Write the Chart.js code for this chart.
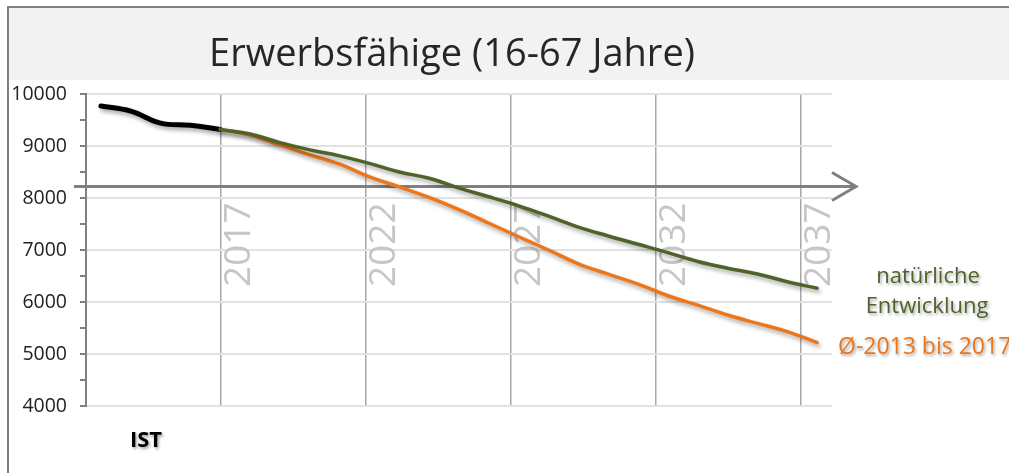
<!DOCTYPE html>
<html>
<head>
<meta charset="utf-8">
<script src="https://cdn.jsdelivr.net/npm/chart.js@4.4.1/dist/chart.umd.min.js"></script>
<style>
  html, body { margin: 0; padding: 0; background: #fff; }
  #wrap { position: relative; width: 1009px; height: 473px; }
</style>
</head>
<body>
<div id="wrap"><canvas id="chart"></canvas></div>
<script>
const TITLE = 'Erwerbsfähige (16-67 Jahre)';

// years on the category axis
const YEARS = [2013, 2014, 2015, 2016, 2017, 2018, 2019, 2020, 2021, 2022,
  2023, 2024, 2025, 2026, 2027, 2028, 2029, 2030, 2031, 2032,
  2033, 2034, 2035, 2036, 2037];

// IST 2013-2017
const IST_YEARS = YEARS.slice(0, 5);
const IST = [9770, 9670, 9440, 9400, 9320];

// Prognose 2017-2037
const PROG_YEARS = YEARS.slice(4);
const NATUERLICH = [9320, 9230, 9065, 8925, 8810, 8665, 8500, 8380, 8190, 8025,
  7850, 7650, 7440, 7270, 7110, 6950, 6780, 6650, 6540, 6390, 6265];
const DURCHSCHNITT = [9320, 9210, 9020, 8830, 8650, 8405, 8215, 8010, 7775, 7515,
  7255, 7000, 6735, 6535, 6345, 6120, 5940, 5750, 5590, 5430, 5220];

const MARKER_LABELS = ['2017', '2022', '2027', '2032', '2037'];
const LABEL_IST = 'IST';
const LABEL_NAT = ['natürliche', 'Entwicklung'];
const LABEL_AVG = 'Ø-2013 bis 2017';

const GREEN = '#4f6228';
const ORANGE = '#ee7619';
const FONT = '"Open Sans", "Liberation Sans", sans-serif';

const toPoints = (xs, ys) => xs.map((x, i) => ({ x, y: ys[i] }));

// Shadow under the lines, like the office drop shadow
const lineShadow = {
  id: 'lineShadow',
  beforeDatasetDraw(chart) {
    const c = chart.ctx;
    c.save();
    c.shadowColor = 'rgba(0,0,0,0.35)';
    c.shadowBlur = 4;
    c.shadowOffsetX = 2;
    c.shadowOffsetY = 3;
  },
  afterDatasetDraw(chart) {
    chart.ctx.restore();
  }
};

const decor = {
  id: 'decor',
  beforeDraw(chart) {
    const c = chart.ctx;
    const W = chart.width, H = chart.height;
    c.save();
    c.fillStyle = '#fff';
    c.fillRect(0, 0, W, H);
    // header band
    c.fillStyle = '#f2f2f2';
    c.fillRect(9, 8, W - 9, 72);
    // frame
    c.strokeStyle = '#808080';
    c.lineWidth = 2;
    c.beginPath();
    c.moveTo(8, H);
    c.lineTo(8, 7);
    c.lineTo(W, 7);
    c.stroke();
    // title
    c.fillStyle = '#262626';
    c.font = '38px ' + FONT;
    c.textAlign = 'center';
    c.textBaseline = 'alphabetic';
    c.fillText(TITLE, 452, 66);
    c.restore();
  },
  beforeDatasetsDraw(chart) {
    const c = chart.ctx;
    const area = chart.chartArea;
    const xs = chart.scales.x;
    c.save();
    // rotated year labels next to the vertical lines
    c.fillStyle = '#c6c6c6';
    c.font = '37px ' + FONT;
    c.textAlign = 'left';
    c.textBaseline = 'alphabetic';
    xs.ticks.forEach((t, i) => {
      const px = xs.getPixelForValue(t.value);
      c.save();
      c.translate(px + 30, area.top + 193);
      c.rotate(-Math.PI / 2);
      c.fillText(MARKER_LABELS[i], 0, 0);
      c.restore();
    });
    // horizontal arrow
    const y = area.top + 92.5;
    c.strokeStyle = '#808080';
    c.lineWidth = 3;
    c.beginPath();
    c.moveTo(area.left - 12, y);
    c.lineTo(area.right + 23, y);
    c.stroke();
    c.beginPath();
    c.moveTo(area.right, y - 14);
    c.lineTo(area.right + 24, y);
    c.lineTo(area.right, y + 14);
    c.stroke();
    c.restore();
  },
  afterDraw(chart) {
    const c = chart.ctx;
    c.save();
    c.shadowColor = 'rgba(0,0,0,0.35)';
    c.shadowBlur = 3;
    c.shadowOffsetX = 1.5;
    c.shadowOffsetY = 2;
    c.textBaseline = 'alphabetic';
    c.font = '22px ' + FONT;
    c.fillStyle = GREEN;
    c.textAlign = 'center';
    c.fillText(LABEL_NAT[0], 928, 283);
    c.fillText(LABEL_NAT[1], 927, 313);
    c.fillStyle = ORANGE;
    c.textAlign = 'left';
    c.font = '23px ' + FONT;
    c.fillText(LABEL_AVG, 838, 354);
    c.fillStyle = '#000';
    c.font = 'bold 22px ' + FONT;
    c.textAlign = 'center';
    c.fillText(LABEL_IST, 146, 447);
    c.restore();
  }
};

new Chart(document.getElementById('chart'), {
  type: 'line',
  data: {
    datasets: [
      {
        label: 'natürliche Entwicklung',
        data: toPoints(PROG_YEARS, NATUERLICH),
        borderColor: GREEN,
        borderWidth: 3.5
      },
      {
        label: LABEL_AVG,
        data: toPoints(PROG_YEARS, DURCHSCHNITT),
        borderColor: ORANGE,
        borderWidth: 3.5
      },
      {
        label: LABEL_IST,
        data: toPoints(IST_YEARS, IST),
        borderColor: '#000',
        borderWidth: 5
      }
    ]
  },
  options: {
    responsive: true,
    maintainAspectRatio: false,
    animation: false,
    events: [],
    layout: { padding: { left: 0, top: 94, right: 177, bottom: 67 } },
    elements: {
      point: { radius: 0 },
      line: { tension: 0.4, borderCapStyle: 'round', borderJoinStyle: 'round' }
    },
    plugins: {
      legend: { display: false },
      title: { display: false },
      tooltip: { enabled: false }
    },
    scales: {
      x: {
        type: 'linear',
        min: 2012.5,
        max: 2037.5,
        afterBuildTicks: scale => {
          // the drawn marker lines sit a bit short of five years apart
          scale.ticks = MARKER_LABELS.map((s, i) => ({ value: 2017 + i * 4.86 }));
        },
        afterFit: scale => { scale.height = 0; },
        ticks: { display: false },
        border: { display: false },
        grid: { color: '#a8a8a8', lineWidth: 1.5, drawTicks: false }
      },
      y: {
        min: 4000,
        max: 10000,
        afterFit: scale => { scale.width = 86; },
        ticks: {
          stepSize: 500,
          autoSkip: false,
          padding: 13,
          color: '#222',
          font: { family: FONT, size: 19.5 },
          callback: v => (v % 1000 === 0 ? v : '')
        },
        border: { display: true, color: '#808080', width: 2 },
        grid: {
          color: ctx => (ctx.tick && ctx.tick.value % 1000 === 0 ? '#e2e2e2' : 'rgba(0,0,0,0)'),
          lineWidth: 2,
          tickColor: '#808080',
          tickLength: 6,
          tickWidth: 2
        }
      }
    }
  },
  plugins: [decor, lineShadow]
});
</script>
</body>
</html>
